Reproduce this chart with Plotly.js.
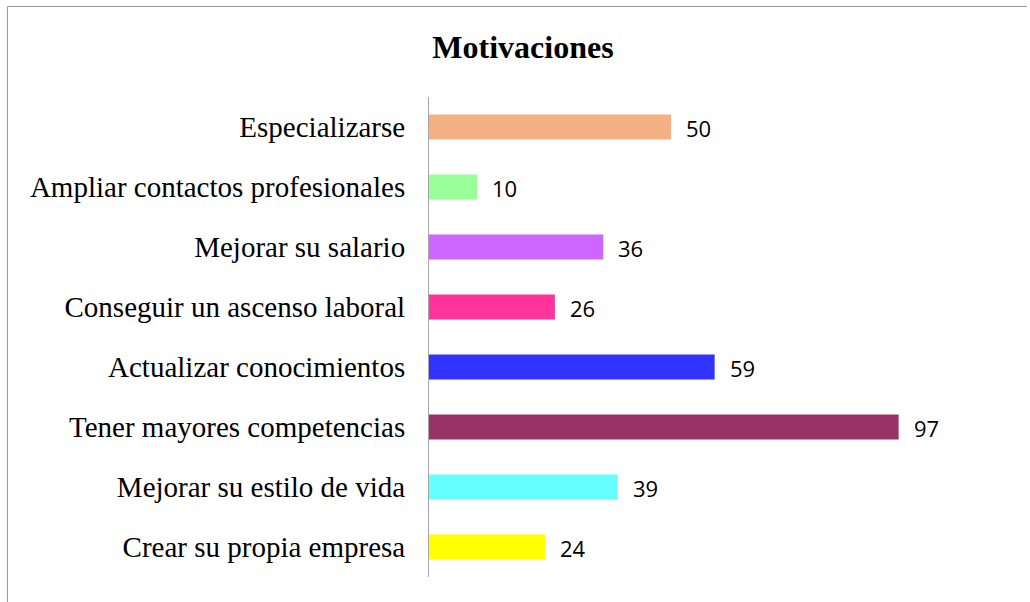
<!DOCTYPE html>
<html>
<head>
<meta charset="utf-8">
<script src="https://cdn.plot.ly/plotly-3.0.1.min.js"></script>
<style>html,body{margin:0;padding:0;background:#fff;}#chart{width:1030px;height:602px;}</style>
</head>
<body>
<div id="chart"></div>
<script>
const categories = [
  "Especializarse",
  "Ampliar contactos profesionales",
  "Mejorar su salario",
  "Conseguir un ascenso laboral",
  "Actualizar conocimientos",
  "Tener mayores competencias",
  "Mejorar su estilo de vida",
  "Crear su propia empresa"
];
const values = [50, 10, 36, 26, 59, 97, 39, 24];
const barColors = ["#F4B183", "#99FF99", "#CC66FF", "#FF3399", "#3333FF", "#993366", "#66FFFF", "#FFFF00"];
const chartTitle = "Motivaciones";

const W = 1030, H = 602;
const mL = 429, mR = 20, mT = 97, mB = 25;
const pw = W - mL - mR, ph = H - mT - mB;
const px = v => (v - mL) / pw;
const py = v => (H - mB - v) / ph;

const trace = {
  type: "bar",
  orientation: "h",
  y: categories,
  x: values,
  marker: {color: barColors},
  hoverinfo: "none"
};

const annotations = values.map((v, i) => ({
  x: v, y: categories[i], xref: "x", yref: "y",
  text: String(v), showarrow: false,
  xanchor: "left", yanchor: "middle", xshift: 13, yshift: -1,
  font: {family: "Open Sans, Liberation Sans, sans-serif", size: 22, color: "#000"}
}));

const layout = {
  width: W, height: H,
  margin: {l: mL, r: mR, t: mT, b: mB, pad: 0},
  paper_bgcolor: "#fff", plot_bgcolor: "#fff",
  showlegend: false,
  bargap: 0.58,
  title: {
    text: "<b>" + chartTitle + "</b>",
    font: {family: "Liberation Serif, Times New Roman, serif", size: 32, color: "#000"},
    x: 523 / W, xanchor: "center", xref: "container",
    y: 1 - 47 / H, yanchor: "middle", yref: "container"
  },
  xaxis: {
    range: [0, 120], visible: false, fixedrange: true
  },
  yaxis: {
    autorange: "reversed",
    showline: true, linecolor: "#A6A6A6", linewidth: 1,
    showgrid: false, zeroline: false,
    ticks: "", ticklabelstandoff: 17,
    tickfont: {family: "Liberation Serif, Times New Roman, serif", size: 29, color: "#000"},
    fixedrange: true
  },
  annotations: annotations,
  shapes: [
    {type: "line", xref: "paper", yref: "paper", x0: px(7.5), x1: px(7.5), y0: py(6.5), y1: py(602), line: {color: "#9A9A9A", width: 1}},
    {type: "line", xref: "paper", yref: "paper", x0: px(7.5), x1: px(1027), y0: py(6.5), y1: py(6.5), line: {color: "#9A9A9A", width: 1}}
  ]
};

Plotly.newPlot("chart", [trace], layout, {displayModeBar: false, staticPlot: true});
</script>
</body>
</html>
